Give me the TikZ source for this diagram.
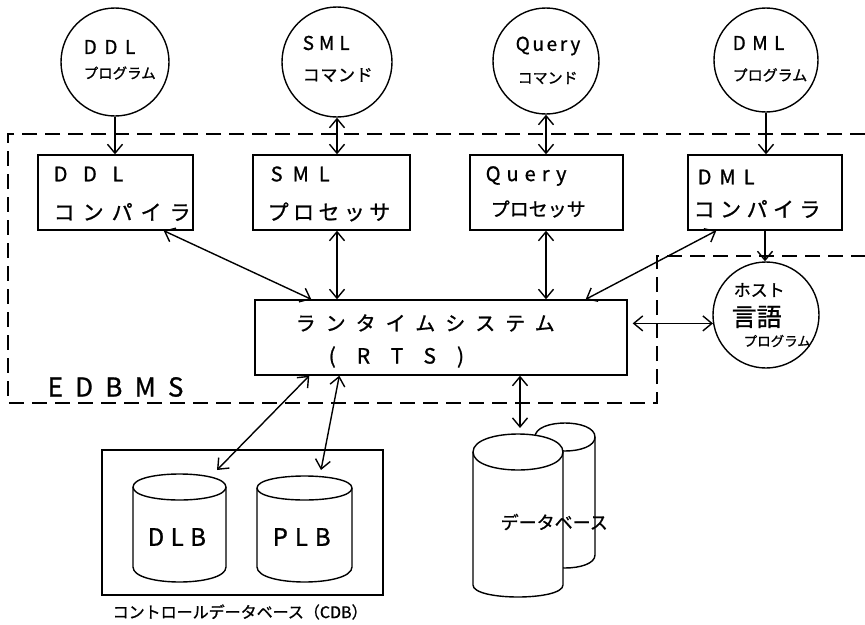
\documentclass[tikz,border=0pt]{standalone}
\usepackage{fontspec}
\setmainfont{Noto Sans CJK JP}[FakeBold=1]
\usetikzlibrary{arrows.meta}
\newcommand\tx[3]{{\fontsize{#1}{#1}\selectfont\addfontfeatures{LetterSpace=#2}#3}}
\newcommand\drawcyl[6]{%
  \filldraw[fill=white] (#1-#3,#2) -- (#1-#3,#5) .. controls (#1-#3,#5+1.333*#6) and (#1+#3,#5+1.333*#6) .. (#1+#3,#5) -- (#1+#3,#2) .. controls (#1+#3,#2-1.333*#4) and (#1-#3,#2-1.333*#4) .. cycle;
  \draw (#1-#3,#2) .. controls (#1-#3,#2+1.333*#4) and (#1+#3,#2+1.333*#4) .. (#1+#3,#2);}
\begin{document}
\begin{tikzpicture}[x=1pt,y=-1pt,line width=1.4pt,
  >={Straight Barb[length=9pt,width=15pt]},
  box/.style={draw,rectangle,inner sep=0pt},
  circ/.style={draw,circle,inner sep=0pt,minimum size=#1},
  lbl/.style={anchor=west,inner sep=0pt},
  bound/.style={line width=1.2pt,dash pattern=on 15pt off 8pt}]
\useasboundingbox (0,0) rectangle (865,624);

% EDBMS boundary
\draw[bound] (865,134) -- (8,134) -- (8,403) -- (657,403) -- (657,256) -- (865,256);

% circles
\node[circ=108pt] (ddlc) at (115,62) {};
\node[circ=110pt] (smlc) at (337,62) {};
\node[circ=106pt] (qc) at (546,61) {};
\node[circ=104pt] (dmlc) at (766,60) {};
\node[circ=106pt] (host) at (766,315) {};

% boxes
\node[box,minimum width=155pt,minimum height=75pt] (ddl) at (115.5,192.5) {};
\node[box,minimum width=157pt,minimum height=75pt] (sml) at (331.5,192.5) {};
\node[box,minimum width=153pt,minimum height=75pt] (q) at (546.5,192.5) {};
\node[box,minimum width=154pt,minimum height=75pt] (dml) at (765,192.5) {};
\node[box,minimum width=372pt,minimum height=75pt] (rts) at (441,337.5) {};
\node[box,minimum width=281pt,minimum height=145pt] (cdb) at (242.5,522.5) {};

% cylinders
\drawcyl{179.5}{487}{46.5}{13}{567}{15}
\drawcyl{304.5}{488}{47.5}{12}{567}{15}
\drawcyl{565}{437}{30}{14}{555}{13}
\drawcyl{518}{452}{45}{18}{585}{12}

% texts
\node[lbl] (ddlc1) at (83,47) {\tx{19}{40}{DDL}};
\node[lbl] (ddlc2) at (83,73) {\tx{14.5}{0}{プログラム}};
\node[lbl] (smlc1) at (302,43) {\tx{19}{26}{SML}};
\node[lbl] (smlc2) at (302,75) {\tx{17}{4}{コマンド}};
\node[lbl] (qc1) at (515,46) {\tx{19}{14}{Query}};
\node[lbl] (qc2) at (517,78) {\tx{15}{0}{コマンド}};
\node[lbl] (dmlc1) at (732,43) {\tx{19}{34}{DML}};
\node[lbl] (dmlc2) at (732,75) {\tx{15}{0}{プログラム}};

\node[lbl] (ddl1) at (53,174) {\tx{20}{78}{DDL}};
\node[lbl] (ddl2) at (53,212) {\tx{21}{38}{コンパイラ}};
\node[lbl] (sml1) at (270,174) {\tx{20}{50}{SML}};
\node[lbl] (sml2) at (267,212) {\tx{21}{21}{プロセッサ}};
\node[lbl] (q1) at (485,176) {\tx{20}{30}{Query}};
\node[lbl] (q2) at (490,209) {\tx{19}{0}{プロセッサ}};
\node[lbl] (dml1) at (697,177) {\tx{20}{40}{DML}};
\node[lbl] (dml2) at (693,209) {\tx{21}{26}{コンパイラ}};

\node[lbl] (rts1) at (295,323) {\tx{20}{50}{ランタイムシステム}};
\node[lbl] (rts2) at (328,357) {\tx{21}{100}{(RTS)}};
\node[lbl] (edbms) at (47,387) {\tx{26}{47}{EDBMS}};

\node[lbl] (host1) at (733,290) {\tx{17}{0}{ホスト}};
\node[lbl] (host2) at (731,317) {\tx{25}{0}{言語}};
\node[lbl] (host3) at (743,341) {\tx{13.5}{0}{プログラム}};

\node[lbl] (dlb) at (147,537) {\tx{24}{27}{DLB}};
\node[lbl] (plb) at (272,537) {\tx{24}{29}{PLB}};
\node[lbl] (db) at (500,522) {\tx{18}{0}{データベース}};
\node[lbl] (cdbl) at (112,612) {\tx{16}{0}{コントロールデータベース（CDB）}};

% connectors
\draw[->] (ddlc.south) -- (ddlc.south |- ddl.north);
\draw[<->] (smlc.south) -- (smlc.south |- sml.north);
\draw[<->] (qc.south) -- (qc.south |- q.north);
\draw[->] (dmlc.south) -- (dmlc.south |- dml.north);
\draw[<->] ([xshift=-30pt]ddl.south east) -- ([xshift=57pt]rts.north west);
\draw[<->] (smlc.south |- sml.south) -- (smlc.south |- rts.north);
\draw[<->] (qc.south |- q.south) -- (qc.south |- rts.north);
\draw[<->] ([xshift=29pt]dml.south west) -- ([xshift=-42pt]rts.north east);
\draw[->] (dml.south) -- (dml.south |- host.north);
\path (host.189 -| rts.east) ++(5,0) coordinate (rtsr);
\draw[<->] (rtsr) -- (host.189);

\coordinate (dlbtop) at (217,470);
\coordinate (plbtop) at (321,470);
\coordinate (dbtop) at (520,428);
\draw[<->] ([xshift=55pt]rts.south west) -- (dlbtop);
\draw[<->] ([xshift=85pt]rts.south west) -- (plbtop);
\draw[<->] (dbtop |- rts.south) -- (dbtop);
\end{tikzpicture}
\end{document}
